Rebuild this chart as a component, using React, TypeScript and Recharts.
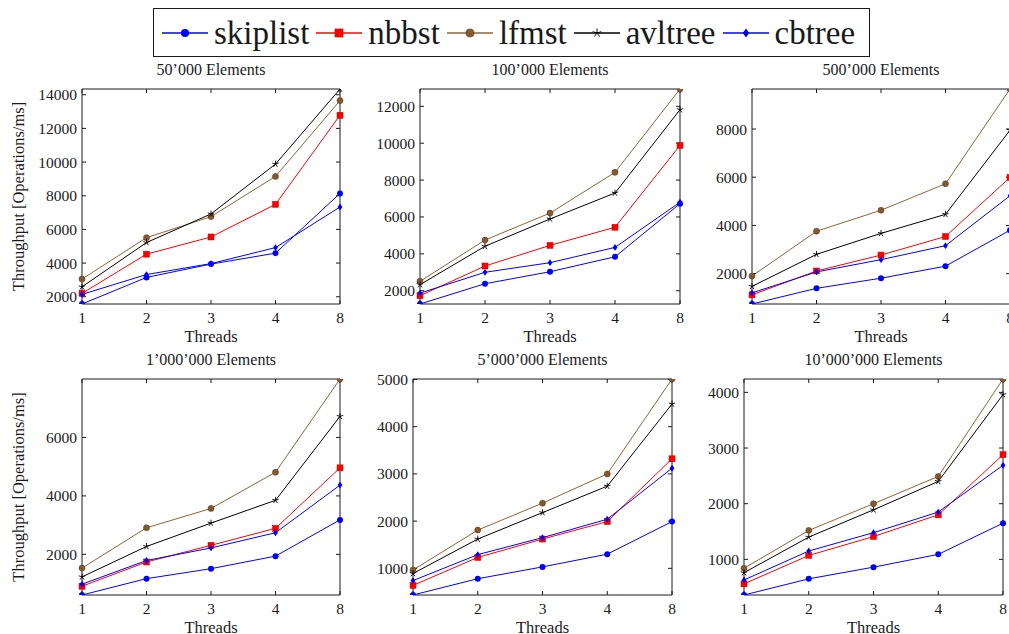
import { LineChart, Line, XAxis, YAxis } from 'recharts'

const FONT = '"Liberation Serif", "Times New Roman", serif'
const INK = '#1a1a1a'

const threads = ['1', '2', '3', '4', '8']

const panelTitles = [
  '50’000 Elements',
  '100’000 Elements',
  '500’000 Elements',
  '1’000’000 Elements',
  '5’000’000 Elements',
  '10’000’000 Elements',
]

// one row per panel, one value per thread count
const skiplist = [
  [1570, 3150, 3940, 4590, 8140],
  [1280, 2380, 3030, 3840, 6720],
  [740, 1390, 1810, 2310, 3800],
  [610, 1170, 1510, 1940, 3180],
  [435, 780, 1030, 1300, 1990],
  [360, 650, 860, 1090, 1650],
]
const nbbst = [
  [2200, 4530, 5550, 7490, 12780],
  [1730, 3340, 4460, 5440, 9880],
  [1120, 2110, 2770, 3540, 5990],
  [910, 1740, 2310, 2890, 4960],
  [640, 1230, 1620, 1990, 3320],
  [560, 1070, 1410, 1800, 2880],
]
const lfmst = [
  [3050, 5510, 6760, 9150, 13650],
  [2510, 4750, 6210, 8420, 12940],
  [1900, 3760, 4630, 5730, 9660],
  [1530, 2910, 3570, 4810, 8000],
  [965, 1810, 2380, 3000, 5010],
  [840, 1520, 2000, 2490, 4240],
]
const avltree = [
  [2590, 5220, 6920, 9880, 14340],
  [2330, 4410, 5890, 7300, 11820],
  [1470, 2800, 3670, 4460, 7950],
  [1230, 2270, 3070, 3850, 6720],
  [890, 1620, 2180, 2740, 4480],
  [760, 1400, 1890, 2400, 3960],
]
const cbtree = [
  [2140, 3320, 3970, 4920, 7330],
  [1870, 3000, 3520, 4350, 6800],
  [1200, 2070, 2580, 3160, 5230],
  [980, 1790, 2220, 2740, 4370],
  [740, 1290, 1650, 2040, 3120],
  [630, 1150, 1480, 1850, 2690],
]

const yTicks = [
  [2000, 4000, 6000, 8000, 10000, 12000, 14000],
  [2000, 4000, 6000, 8000, 10000, 12000],
  [2000, 4000, 6000, 8000],
  [2000, 4000, 6000],
  [1000, 2000, 3000, 4000, 5000],
  [1000, 2000, 3000, 4000],
]

type MarkKind = 'circle' | 'square' | 'brown' | 'star' | 'diamond'

const series: { name: string; values: number[][]; color: string; mark: MarkKind }[] = [
  { name: 'skiplist', values: skiplist, color: '#0000ff', mark: 'circle' },
  { name: 'nbbst', values: nbbst, color: '#ff0000', mark: 'square' },
  { name: 'lfmst', values: lfmst, color: '#8f6438', mark: 'brown' },
  { name: 'avltree', values: avltree, color: '#000000', mark: 'star' },
  { name: 'cbtree', values: cbtree, color: '#0000ff', mark: 'diamond' },
]

// plot-area boxes in page pixels
const boxes = [
  { left: 82, top: 89, w: 258, h: 215 },
  { left: 420, top: 89, w: 260, h: 215 },
  { left: 752, top: 89, w: 258, h: 215 },
  { left: 82, top: 379, w: 258, h: 216 },
  { left: 413, top: 379, w: 259, h: 216 },
  { left: 744, top: 379, w: 259, h: 216 },
]

function Mark({ kind, cx, cy, s = 1 }: { kind: MarkKind; cx: number; cy: number; s?: number }) {
  if (kind === 'circle') return <circle cx={cx} cy={cy} r={3 * s} fill="#0000ff" />
  if (kind === 'brown')
    return <circle cx={cx} cy={cy} r={3 * s} fill="#85592f" stroke="#5e3d1f" strokeWidth={0.6} />
  if (kind === 'square')
    return <rect x={cx - 3 * s} y={cy - 3 * s} width={6 * s} height={6 * s} fill="#ff0000" stroke="#c80000" strokeWidth={0.5} />
  if (kind === 'diamond') {
    const a = 2.4 * s
    const b = 3.4 * s
    return <path d={`M${cx},${cy - b} L${cx + a},${cy} L${cx},${cy + b} L${cx - a},${cy} Z`} fill="#0000ff" />
  }
  const r = 3.4 * s
  const d = [0, 1, 2, 3, 4]
    .map((k) => {
      const ang = (-90 + k * 72) * (Math.PI / 180)
      return `M${cx},${cy} L${cx + r * Math.cos(ang)},${cy + r * Math.sin(ang)}`
    })
    .join(' ')
  return <path d={d} stroke="#000" strokeWidth={0.9} fill="none" />
}

const noLabel = () => <g />
const tickStyle = { fontSize: 15.5, fill: INK, fontFamily: FONT }

function Panel({ idx }: { idx: number }) {
  const b = boxes[idx]
  const data = threads.map((t, i) => {
    const row: Record<string, string | number> = { t }
    series.forEach((s) => (row[s.name] = s.values[idx][i]))
    return row
  })
  const all = series.flatMap((s) => s.values[idx])
  const domain: [number, number] = [Math.min(...all), Math.max(...all)]
  const W = b.w + 85
  const H = b.h + 90
  const leftCol = idx % 3 === 0

  return (
    <div style={{ position: 'absolute', left: b.left - 70, top: b.top - 40, width: W, height: H }}>
      <div
        style={{
          position: 'absolute',
          left: 70,
          width: b.w,
          top: 13,
          lineHeight: '16px',
          fontSize: 16,
          fontFamily: FONT,
          color: INK,
          textAlign: 'center',
          whiteSpace: 'nowrap',
        }}
      >
        {panelTitles[idx]}
      </div>
      <LineChart
        width={W}
        height={H}
        data={data}
        margin={{ top: 39, right: 14, bottom: 0, left: 0 }}
        style={{ fontFamily: FONT }}
      >
        <XAxis
          dataKey="t"
          height={50}
          interval={0}
          tickSize={-4}
          tickMargin={12}
          axisLine={{ stroke: INK }}
          tickLine={{ stroke: INK }}
          tick={tickStyle}
          label={{
            value: 'Threads',
            position: 'insideBottom',
            offset: 12,
            style: { fontSize: 16.5, fill: INK, fontFamily: FONT },
          }}
        />
        <XAxis
          xAxisId="top"
          orientation="top"
          dataKey="t"
          height={1}
          interval={0}
          tickSize={-4}
          axisLine={{ stroke: INK }}
          tickLine={{ stroke: INK }}
          tick={noLabel}
        />
        <YAxis
          type="number"
          domain={domain}
          ticks={yTicks[idx]}
          interval={0}
          allowDataOverflow
          width={70}
          tickSize={-4}
          tickMargin={9}
          axisLine={{ stroke: INK }}
          tickLine={{ stroke: INK }}
          tick={tickStyle}
          label={
            leftCol
              ? {
                  value: 'Throughput [Operations/ms]',
                  angle: -90,
                  position: 'insideLeft',
                  offset: 6,
                  style: { textAnchor: 'middle', fontSize: 16.5, fill: INK, fontFamily: FONT },
                }
              : undefined
          }
        />
        <YAxis
          yAxisId="right"
          orientation="right"
          type="number"
          domain={domain}
          ticks={yTicks[idx]}
          interval={0}
          allowDataOverflow
          width={1}
          tickSize={-4}
          axisLine={{ stroke: INK }}
          tickLine={{ stroke: INK }}
          tick={noLabel}
        />
        {series.map((s) => (
          <Line
            key={s.name}
            dataKey={s.name}
            stroke={s.color}
            strokeWidth={1}
            isAnimationActive={false}
            activeDot={false}
            dot={(p: any) => <Mark key={`${s.name}-${p.index}`} kind={s.mark} cx={p.cx} cy={p.cy} />}
          />
        ))}
      </LineChart>
    </div>
  )
}

function Legend() {
  return (
    <div
      style={{
        position: 'absolute',
        left: 153,
        top: 8,
        width: 717,
        height: 49,
        boxSizing: 'border-box',
        border: `1.3px solid ${INK}`,
        display: 'flex',
        alignItems: 'center',
        paddingLeft: 8,
        fontFamily: FONT,
        fontSize: 33,
        color: INK,
        whiteSpace: 'nowrap',
      }}
    >
      {series.map((s) => (
        <div key={s.name} style={{ display: 'flex', alignItems: 'center', marginRight: 7 }}>
          <svg width={46} height={20} style={{ display: 'block' }}>
            <line x1={0} x2={46} y1={10} y2={10} stroke={s.color} strokeWidth={1.3} />
            <Mark kind={s.mark} cx={23} cy={10} s={1.35} />
          </svg>
          <span style={{ marginLeft: 6, lineHeight: '40px', fontFamily: FONT }}>{s.name}</span>
        </div>
      ))}
    </div>
  )
}

export default function App() {
  return (
    <div
      style={{
        position: 'absolute',
        left: 0,
        top: 0,
        width: 1009,
        height: 634,
        overflow: 'hidden',
        background: '#fff',
        fontFamily: FONT,
      }}
    >
      <Legend />
      {boxes.map((_, i) => (
        <Panel key={i} idx={i} />
      ))}
    </div>
  )
}
